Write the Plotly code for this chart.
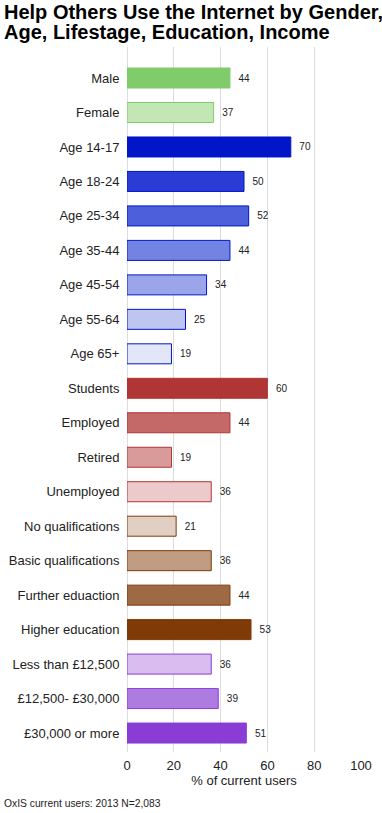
import plotly.graph_objects as go

categories = ["Male", "Female", "Age 14-17", "Age 18-24", "Age 25-34", "Age 35-44",
              "Age 45-54", "Age 55-64", "Age 65+", "Students", "Employed", "Retired",
              "Unemployed", "No qualifications", "Basic qualifications", "Further eduaction",
              "Higher education", "Less than £12,500", "£12,500- £30,000", "£30,000 or more"]
values = [44, 37, 70, 50, 52, 44, 34, 25, 19, 60, 44, 19, 36, 21, 36, 44, 53, 36, 39, 51]
fill_colors = ["#80cc6a", "#c2e7b5", "#0016c8", "#2a3cd5", "#4d5fda", "#7383e1",
               "#9aa5ea", "#bfc5f1", "#e3e6f8", "#b03535", "#c56868", "#d99a9a",
               "#ecc9cb", "#e0cfc2", "#c09c82", "#9e6a45", "#7f3a08", "#d9bdf0",
               "#ae7be0", "#8a3dd4"]
line_colors = ["#80cc6a", "#80cc6a", "#0016c8", "#0016c8", "#0016c8", "#0016c8",
               "#0016c8", "#0016c8", "#0016c8", "#b03535", "#b03535", "#b03535",
               "#b03535", "#7f3a08", "#7f3a08", "#7f3a08", "#7f3a08", "#8a3dd4",
               "#8a3dd4", "#8a3dd4"]
title_lines = ["Help Others Use the Internet by Gender,", "Age, Lifestage, Education, Income"]

L, R, T, B = 127, 21, 47, 61
W, H = 382, 813
PW, PH = W - L - R, H - T - B

fig = go.Figure(go.Bar(
    x=values, y=categories, orientation="h",
    marker=dict(color=fill_colors, line=dict(color=line_colors, width=1)),
    width=0.58,
    text=["  " + str(v) for v in values], textposition="outside",
    textfont=dict(family="Liberation Sans, Arial", size=10, color="#222222"),
    cliponaxis=False, hoverinfo="skip",
))

annotations = []
for i, line in enumerate(title_lines):
    annotations.append(dict(
        text="<b>" + line + "</b>", xref="paper", yref="paper",
        x=(2 - L) / PW, y=1 + (T - (12 + 20 * i)) / PH,
        xanchor="left", yanchor="middle", align="left", showarrow=False,
        font=dict(family="Liberation Sans, Arial", size=20, color="black")))
annotations.append(dict(
    text="OxIS current users: 2013 N=2,083", xref="paper", yref="paper",
    x=(2 - L) / PW, y=-(803 - (H - B)) / PH, xanchor="left", yanchor="middle",
    showarrow=False, font=dict(size=10.3, color="#222222")))

fig.update_layout(
    width=W, height=H,
    margin=dict(l=L, r=R, t=T, b=B),
    paper_bgcolor="white", plot_bgcolor="white",
    showlegend=False,
    font=dict(family="Liberation Sans, Arial", color="#222222"),
    xaxis=dict(range=[0, 100], tickvals=[0, 20, 40, 60, 80, 100],
               showgrid=True, gridcolor="#dddddd", gridwidth=1,
               zeroline=True, zerolinecolor="#dddddd", zerolinewidth=1,
               showline=False, ticks="", automargin=False, ticklabelstandoff=4,
               tickfont=dict(size=13, color="#222222"),
               title=dict(text="% of current users", font=dict(size=13, color="#222222"), standoff=0)),
    yaxis=dict(categoryorder="array", categoryarray=categories, automargin=False,
               range=[19.55, -0.9], showgrid=False, zeroline=False, ticks="",
               ticksuffix=" ", ticklabelstandoff=3, tickfont=dict(size=13, color="#222222")),
    annotations=annotations,
)

fig.write_html("out.html", config={"displayModeBar": False},
               post_script="document.body.style.margin='0';document.body.style.overflow='hidden';")
